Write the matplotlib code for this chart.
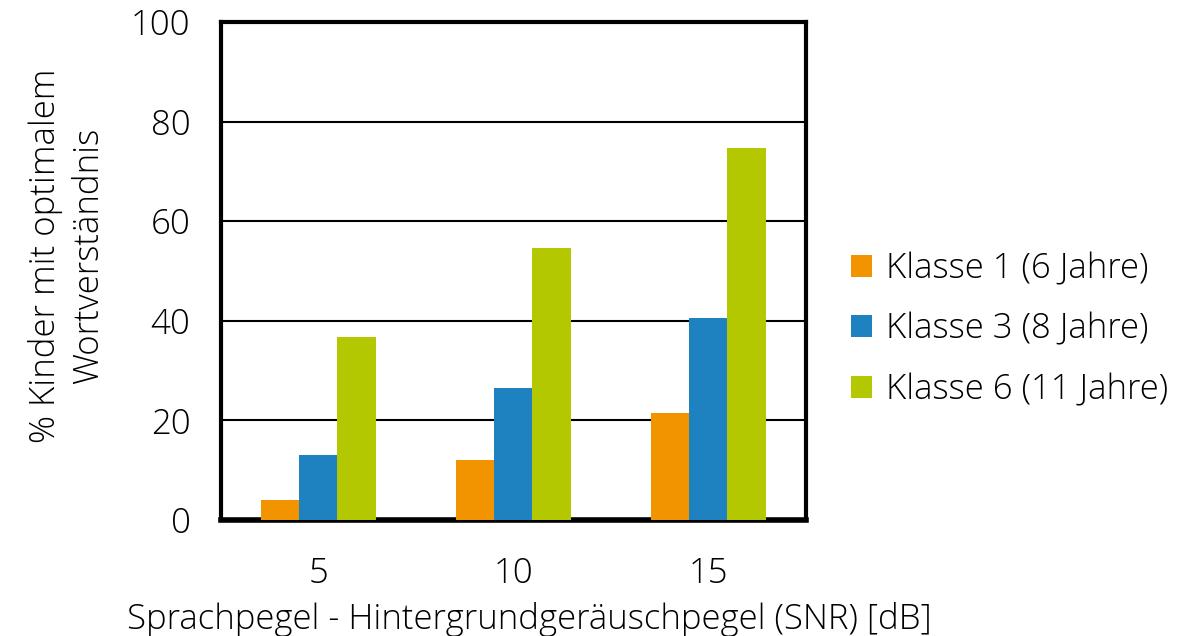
import matplotlib
matplotlib.use("Agg")
import matplotlib.pyplot as plt
import numpy as np

plt.rcParams['font.family'] = ['Open Sans', 'DejaVu Sans']
plt.rcParams['font.weight'] = 'light'
plt.rcParams['axes.labelweight'] = 'light'

snr = ['5', '10', '15']
klasse1 = [4.0, 12.0, 21.4]
klasse3 = [13.1, 26.6, 40.5]
klasse6 = [36.7, 54.6, 74.7]
series_names = ['Klasse 1 (6 Jahre)', 'Klasse 3 (8 Jahre)', 'Klasse 6 (11 Jahre)']
colors = ['#F29400', '#1F82C0', '#B3C800']
fs = 25

fig = plt.figure(figsize=(11.9, 6.36), dpi=100)
ax = fig.add_axes([0.1857, 0.1824, 0.4916, 0.783])

x = np.arange(len(snr))
w = 0.195
for i, (vals, name, c) in enumerate(zip([klasse1, klasse3, klasse6], series_names, colors)):
    ax.bar(x + (i - 1) * w, vals, width=w, color=c, label=name, zorder=3)

ax.set_xlim(-0.5, 2.5)
ax.set_ylim(0, 100)
ax.set_yticks([0, 20, 40, 60, 80, 100])
ax.set_xticks(x)
ax.set_xticklabels(snr)
ax.yaxis.grid(True, color='black', linewidth=1.5, zorder=0)
ax.set_axisbelow(True)
for side in ['left', 'right', 'top']:
    ax.spines[side].set_linewidth(3)
ax.spines['bottom'].set_linewidth(4)
ax.tick_params(length=0, labelsize=fs)
ax.tick_params(axis='y', pad=22)
ax.tick_params(axis='x', pad=26)

ax.set_xlabel('Sprachpegel - Hintergrundgeräuschpegel (SNR) [dB]', fontsize=fs,
              fontweight='light', labelpad=8)
ax.xaxis.label.set_x(0.5265)
fig.text(67 / 1190, 1 - 256 / 636, '% Kinder mit optimalem\nWortverständnis', fontsize=fs,
         rotation=90, ha='center', va='center', linespacing=1.3, multialignment='center')

ax.legend(loc='center left', bbox_to_anchor=(1.024, 0.383), frameon=False, fontsize=fs,
          handlelength=0.6, handleheight=0.6, handletextpad=0.4, labelspacing=0.75)

fig.savefig('out.png', dpi=100)
